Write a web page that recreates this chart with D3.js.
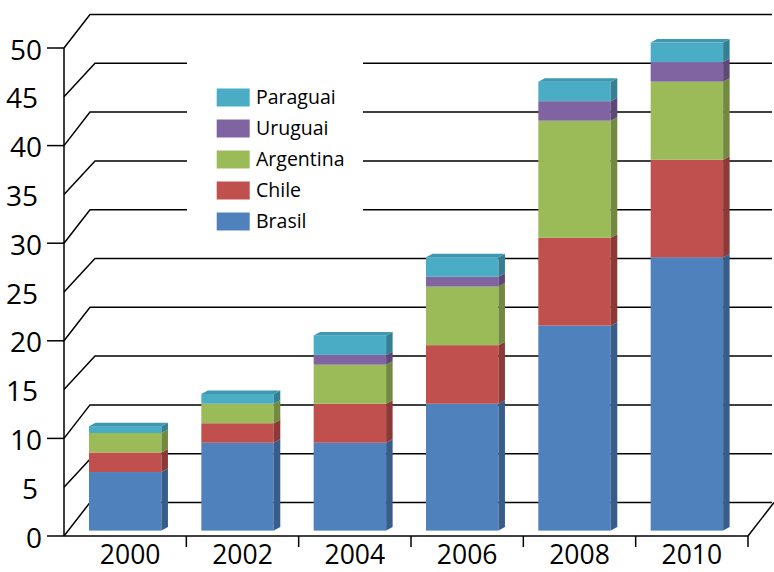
<!DOCTYPE html>
<html>
<head>
<meta charset="utf-8">
<script src="https://cdn.jsdelivr.net/npm/d3@7"></script>
<style>
  html, body { margin: 0; padding: 0; background: #fff; }
  svg { display: block; }
  text { font-family: "Open Sans", "DejaVu Sans", sans-serif; fill: #000; }
</style>
</head>
<body>
<svg id="chart" width="774" height="572"></svg>
<script>
// ---- data ----
const categories = ["2000", "2002", "2004", "2006", "2008", "2010"];
const seriesNames = ["Brasil", "Chile", "Argentina", "Uruguai", "Paraguai"];
const brasil    = [6, 9, 9, 13, 21, 28];
const chile     = [2, 2, 4, 6, 9, 10];
const argentina = [2, 2, 4, 6, 12, 8];
const uruguai   = [0, 0, 1, 1, 2, 2];
const paraguai  = [0.7, 1, 2, 2, 2, 2];
const yTicks = [0, 5, 10, 15, 20, 25, 30, 35, 40, 45, 50];

const colors = {
  Brasil:    { front: "#4f81bd", side: "#385d8a", top: "#4574ab" },
  Chile:     { front: "#c0504d", side: "#8c3a38", top: "#ad4845" },
  Argentina: { front: "#9bbb59", side: "#718a40", top: "#8ca951" },
  Uruguai:   { front: "#8064a2", side: "#5d4876", top: "#735a92" },
  Paraguai:  { front: "#4bacc6", side: "#357f93", top: "#3e98b0" }
};

const rows = categories.map((c, i) => ({
  cat: c,
  Brasil: brasil[i], Chile: chile[i], Argentina: argentina[i],
  Uruguai: uruguai[i], Paraguai: paraguai[i]
}));

const svg = d3.select("#chart");

// ---- scales ----
const y = d3.scaleLinear().domain([0, 50]).range([536, 48]);
const x = d3.scaleBand().domain(categories).range([74, 748]);
const bw = x.bandwidth();

const axisX = 64;          // front-left corner
const wallDy = -33.5;      // depth of back wall
const wallRight = 772;
const floorRightFront = 748;

// ---- back wall gridlines ----
const grid = svg.append("g").attr("stroke", "#000").attr("stroke-width", 1.5).attr("fill", "none");
yTicks.forEach((t, i) => {
  const dx = (i % 2 === 0) ? 26 : 31;
  const y0 = y(t);
  grid.append("path")
    .attr("d", `M${axisX},${y0}L${axisX + dx},${y0 + wallDy}L${wallRight},${y0 + wallDy}`);
});
// floor right edge
grid.append("path")
  .attr("d", `M${floorRightFront},${y(0)}L${floorRightFront + 26},${y(0) + wallDy}`);

// ---- legend box (white background hides gridlines) ----
const legend = svg.append("g");
legend.append("rect")
  .attr("x", 187).attr("y", 56).attr("width", 176).attr("height", 192)
  .attr("fill", "#fff");

// ---- bars ----
const stack = d3.stack().keys(seriesNames);
const stacked = stack(rows);
const recess = 5.4;
const ddx = 6.5, ddy = -3.5;
const barOff = bw * 0.1335, barW = bw * 0.645;

const bars = svg.append("g");
categories.forEach((c, ci) => {
  const x0 = x(c) + barOff, x1 = x0 + barW;
  let topIdx = -1;
  stacked.forEach((s, si) => { if (s[ci][1] - s[ci][0] > 0) topIdx = si; });
  stacked.forEach((s, si) => {
    const d0 = s[ci][0], d1 = s[ci][1];
    if (d1 - d0 <= 0) return;
    const col = colors[s.key];
    const yb = y(d0) - recess, yt = y(d1) - recess;
    bars.append("rect")
      .attr("x", x0).attr("y", yt).attr("width", barW).attr("height", yb - yt)
      .attr("fill", col.front);
    bars.append("path")
      .attr("d", `M${x1},${yt}L${x1 + ddx},${yt + ddy}L${x1 + ddx},${yb + ddy}L${x1},${yb}Z`)
      .attr("fill", col.side);
    if (si === topIdx) {
      bars.append("path")
        .attr("d", `M${x0},${yt}L${x0 + ddx},${yt + ddy}L${x1 + ddx},${yt + ddy}L${x1},${yt}Z`)
        .attr("fill", col.top);
    }
  });
});

// ---- legend entries ----
const legOrder = ["Paraguai", "Uruguai", "Argentina", "Chile", "Brasil"];
legOrder.forEach((name, i) => {
  const cy = 97.5 + i * 31;
  legend.append("rect")
    .attr("x", 216.7).attr("y", cy - 9).attr("width", 33).attr("height", 18)
    .attr("fill", colors[name].front);
  legend.append("text")
    .attr("x", 256).attr("y", cy).attr("dy", "0.35em")
    .attr("font-size", 19.5)
    .text(name);
});

// ---- front axes ----
const axes = svg.append("g").attr("stroke", "#000").attr("stroke-width", 1.5).attr("fill", "none");
axes.append("line").attr("x1", axisX).attr("x2", axisX).attr("y1", y(50)).attr("y2", y(0));
axes.append("line").attr("x1", axisX).attr("x2", floorRightFront).attr("y1", y(0)).attr("y2", y(0));
yTicks.filter(t => t % 10 === 0).forEach(t => {
  axes.append("line").attr("x1", 47).attr("x2", axisX).attr("y1", y(t)).attr("y2", y(t));
});
categories.forEach(c => {
  const bx = x(c) + bw;
  axes.append("line").attr("x1", bx).attr("x2", bx).attr("y1", y(0)).attr("y2", y(0) + 11);
});

// y labels
svg.append("g").selectAll("text").data(yTicks).join("text")
  .attr("x", t => t % 10 === 0 ? 42 : 38)
  .attr("y", t => y(t) + 1.5)
  .attr("dy", "0.36em")
  .attr("text-anchor", "end")
  .attr("font-size", 28)
  .text(t => t);

// x labels
svg.append("g").selectAll("text").data(categories).join("text")
  .attr("x", c => x(c) + bw / 2)
  .attr("y", 564)
  .attr("text-anchor", "middle")
  .attr("font-size", 26.5)
  .text(c => c);
</script>
</body>
</html>
